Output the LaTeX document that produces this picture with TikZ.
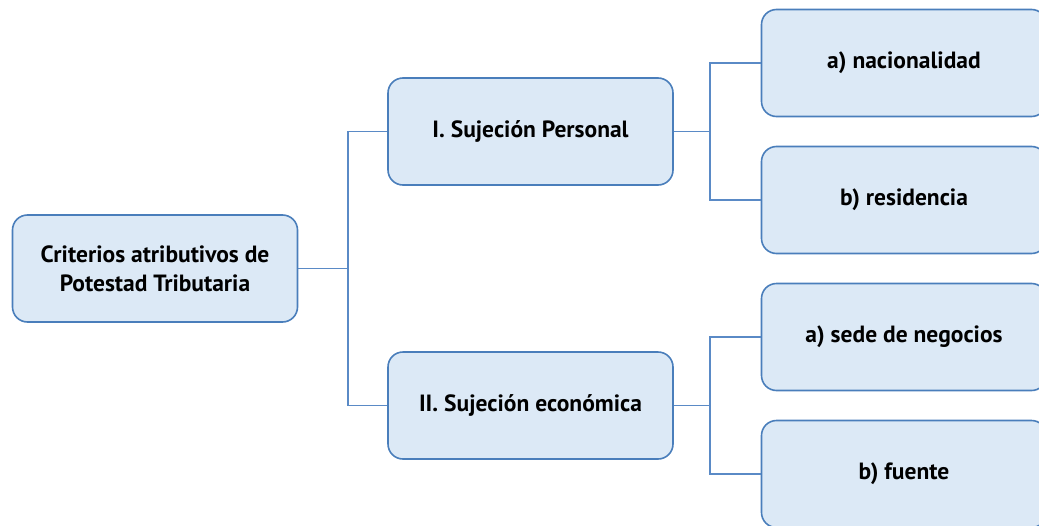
\documentclass[tikz,border=0pt]{standalone}
\usepackage{fontspec}
\setmainfont{PT Sans}
\usepackage{tikz}
\definecolor{boxfill}{HTML}{DCE9F6}
\definecolor{boxline}{HTML}{4A7EBB}
\definecolor{linkline}{HTML}{5A8AC6}
\tikzset{
  crit/.style={draw=boxline, fill=boxfill, line width=1.6pt, rounded corners=15pt,
    minimum width=285pt, minimum height=107pt, align=center,
    font=\fontsize{23.5}{29}\selectfont\bfseries},
  link/.style={draw=linkline, line width=1.8pt}
}
\begin{document}
\begin{tikzpicture}[x=1pt,y=-1pt]
\useasboundingbox (0,0) rectangle (1039,525);
\clip (0,0) rectangle (1039,525);
\node[crit] (root) at (155,268.5) {Criterios atributivos de\\Potestad Tributaria};
\node[crit] (pers) at (530.5,131.5) {I. Sujeción Personal};
\node[crit] (econ) at (530.5,405.5) {II. Sujeción económica};
\node[crit] (nac) at (904,63) {a) nacionalidad};
\node[crit] (res) at (904,200) {b) residencia};
\node[crit] (sede) at (904,337) {a) sede de negocios};
\node[crit] (fte) at (904,474) {b) fuente};
\draw[link] (pers.west) -- ++(-39,0) |- (root.east);
\draw[link] (econ.west) -- ++(-39,0) |- (root.east);
\draw[link] (nac.west) -- ++(-51,0) |- (pers.east);
\draw[link] (res.west) -- ++(-51,0) |- (pers.east);
\draw[link] (sede.west) -- ++(-51,0) |- (econ.east);
\draw[link] (fte.west) -- ++(-51,0) |- (econ.east);
\end{tikzpicture}
\end{document}
